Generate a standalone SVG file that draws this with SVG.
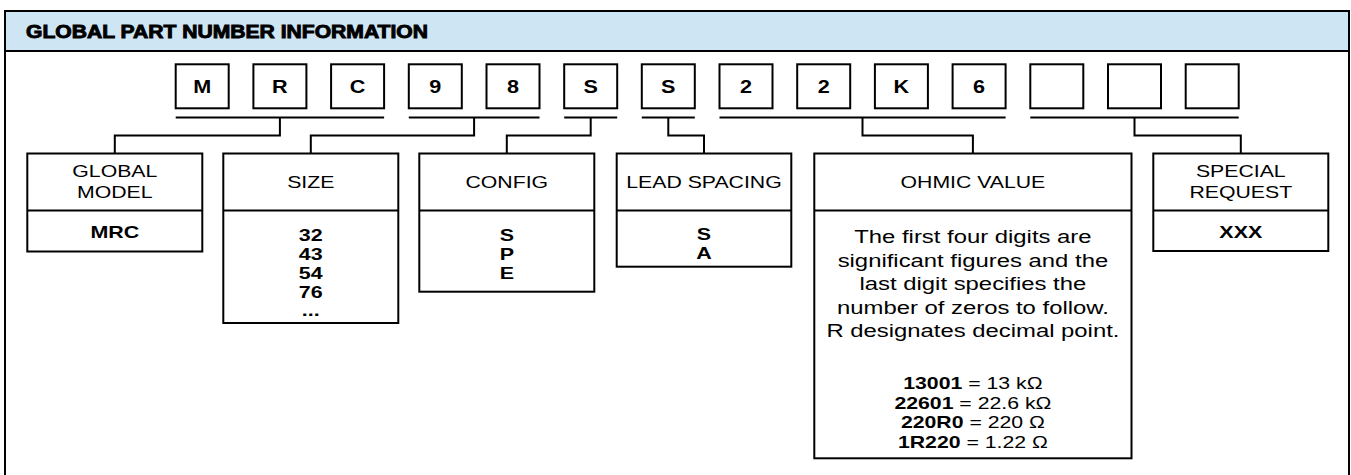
<svg xmlns="http://www.w3.org/2000/svg" width="1351" height="475" viewBox="0 0 1351 475">
<style>
text{font-family:"Liberation Sans",Arial,sans-serif;fill:#000;text-anchor:middle}
.lbl{font-size:17px}
.val{font-size:16.5px;font-weight:bold}
.body{font-size:18.5px}
.frm{font-size:17px}
.b{font-weight:bold}
.box{fill:#fff;stroke:#000;stroke-width:2}
.ln{fill:none;stroke:#000;stroke-width:2}
.title{font-size:18px;font-weight:bold;text-anchor:start;stroke:#000;stroke-width:0.9}
</style>
<rect x="0" y="0" width="1351" height="475" fill="#fff"/>
<g id="frame">
<rect x="5" y="11" width="1344" height="40" fill="#cee5f3"/>
<path class="ln" d="M5,476 V11 H1349 V476 M5,51 H1349"/>
<text class="title" x="26" y="37.5" textLength="402" lengthAdjust="spacingAndGlyphs">GLOBAL PART NUMBER INFORMATION</text>
</g>
<g id="part-number">
<rect class="box" x="175.7" y="64.3" width="53" height="44"/>
<rect class="box" x="253.4" y="64.3" width="53" height="44"/>
<rect class="box" x="331.1" y="64.3" width="53" height="44"/>
<rect class="box" x="408.8" y="64.3" width="53" height="44"/>
<rect class="box" x="486.5" y="64.3" width="53" height="44"/>
<rect class="box" x="564.2" y="64.3" width="53" height="44"/>
<rect class="box" x="641.8" y="64.3" width="53" height="44"/>
<rect class="box" x="719.5" y="64.3" width="53" height="44"/>
<rect class="box" x="797.2" y="64.3" width="53" height="44"/>
<rect class="box" x="874.9" y="64.3" width="53" height="44"/>
<rect class="box" x="952.6" y="64.3" width="53" height="44"/>
<rect class="box" x="1030.3" y="64.3" width="53" height="44"/>
<rect class="box" x="1108" y="64.3" width="53" height="44"/>
<rect class="box" x="1185.7" y="64.3" width="53" height="44"/>
<g style="font-size:18px">
<text class="val" style="font-size:18px" transform="translate(202.2,93) scale(1.2,1)">M</text>
<text class="val" style="font-size:18px" transform="translate(279.9,93) scale(1.2,1)">R</text>
<text class="val" style="font-size:18px" transform="translate(357.6,93) scale(1.2,1)">C</text>
<text class="val" style="font-size:18px" transform="translate(435.3,93) scale(1.2,1)">9</text>
<text class="val" style="font-size:18px" transform="translate(513,93) scale(1.2,1)">8</text>
<text class="val" style="font-size:18px" transform="translate(590.7,93) scale(1.2,1)">S</text>
<text class="val" style="font-size:18px" transform="translate(668.3,93) scale(1.2,1)">S</text>
<text class="val" style="font-size:18px" transform="translate(746,93) scale(1.2,1)">2</text>
<text class="val" style="font-size:18px" transform="translate(823.7,93) scale(1.2,1)">2</text>
<text class="val" style="font-size:18px" transform="translate(901.4,93) scale(1.2,1)">K</text>
<text class="val" style="font-size:18px" transform="translate(979.1,93) scale(1.2,1)">6</text>
</g>
</g>
<g id="connectors" class="ln">
<path class="ln" d="M175.7,117.5 H384.1 M408.8,117.5 H539.5 M564.2,117.5 H617.2 M641.8,117.5 H694.8 M719.5,117.5 H1005.6 M1030.3,117.5 H1238.7"/>
<path class="ln" d="M279.9,117.5 V135.5 H114.8 V153.5"/>
<path class="ln" d="M474.1,117.5 V135.5 H310.8 V153.5"/>
<path class="ln" d="M590.7,117.5 V135.5 H506.8 V153.5"/>
<path class="ln" d="M668.3,117.5 V135.5 H704 V153.5"/>
<path class="ln" d="M862.5,117.5 V135.5 H972.9 V153.5"/>
<path class="ln" d="M1134.5,117.5 V135.5 H1240.8 V153.5"/>
</g>
<g id="global-model">
<rect class="box" x="27.3" y="153.5" width="175" height="98"/>
<path class="ln" d="M27.3,210.5 H202.3"/>
<text class="lbl" transform="translate(114.8,177) scale(1.25,1)">GLOBAL</text>
<text class="lbl" transform="translate(114.8,198) scale(1.25,1)">MODEL</text>
<text class="val" transform="translate(114.8,237.5) scale(1.3,1)">MRC</text>
</g>
<g id="size">
<rect class="box" x="223.3" y="153.5" width="175" height="169.5"/>
<path class="ln" d="M223.3,210.5 H398.3"/>
<text class="lbl" transform="translate(310.8,188) scale(1.25,1)">SIZE</text>
<text class="val" transform="translate(310.8,241) scale(1.3,1)">32</text>
<text class="val" transform="translate(310.8,260) scale(1.3,1)">43</text>
<text class="val" transform="translate(310.8,279) scale(1.3,1)">54</text>
<text class="val" transform="translate(310.8,298) scale(1.3,1)">76</text>
<text class="val" transform="translate(310.8,316) scale(1.3,1)">...</text>
</g>
<g id="config">
<rect class="box" x="419.3" y="153.5" width="175" height="138.2"/>
<path class="ln" d="M419.3,210.5 H594.3"/>
<text class="lbl" transform="translate(506.8,188) scale(1.25,1)">CONFIG</text>
<text class="val" transform="translate(506.8,241) scale(1.3,1)">S</text>
<text class="val" transform="translate(506.8,260) scale(1.3,1)">P</text>
<text class="val" transform="translate(506.8,279) scale(1.3,1)">E</text>
</g>
<g id="lead-spacing">
<rect class="box" x="616.7" y="153.5" width="174.6" height="113.2"/>
<path class="ln" d="M616.7,210.5 H791.3"/>
<text class="lbl" transform="translate(704,188) scale(1.25,1)">LEAD SPACING</text>
<text class="val" transform="translate(704,240) scale(1.3,1)">S</text>
<text class="val" transform="translate(704,259) scale(1.3,1)">A</text>
</g>
<g id="ohmic-value">
<rect class="box" x="814.3" y="153.5" width="317.2" height="304.8"/>
<path class="ln" d="M814.3,210.5 H1131.5"/>
<text class="lbl" transform="translate(972.9,188) scale(1.25,1)">OHMIC VALUE</text>
<text class="body" transform="translate(972.9,243) scale(1.29,1)">The first four digits are</text>
<text class="body" transform="translate(972.9,266.5) scale(1.29,1)">significant figures and the</text>
<text class="body" transform="translate(972.9,290) scale(1.29,1)">last digit specifies the</text>
<text class="body" transform="translate(972.9,313.5) scale(1.29,1)">number of zeros to follow.</text>
<text class="body" transform="translate(972.9,337) scale(1.29,1)">R designates decimal point.</text>
<text class="frm" transform="translate(972.9,389) scale(1.25,1)"><tspan class="b">13001</tspan> = 13 kΩ</text>
<text class="frm" transform="translate(972.9,408.5) scale(1.25,1)"><tspan class="b">22601</tspan> = 22.6 kΩ</text>
<text class="frm" transform="translate(972.9,428) scale(1.25,1)"><tspan class="b">220R0</tspan> = 220 Ω</text>
<text class="frm" transform="translate(972.9,447.5) scale(1.25,1)"><tspan class="b">1R220</tspan> = 1.22 Ω</text>
</g>
<g id="special-request">
<rect class="box" x="1153.3" y="153.5" width="175" height="97.5"/>
<path class="ln" d="M1153.3,210.5 H1328.3"/>
<text class="lbl" transform="translate(1240.8,177) scale(1.25,1)">SPECIAL</text>
<text class="lbl" transform="translate(1240.8,198) scale(1.25,1)">REQUEST</text>
<text class="val" transform="translate(1240.8,237.5) scale(1.3,1)">XXX</text>
</g>
</svg>
